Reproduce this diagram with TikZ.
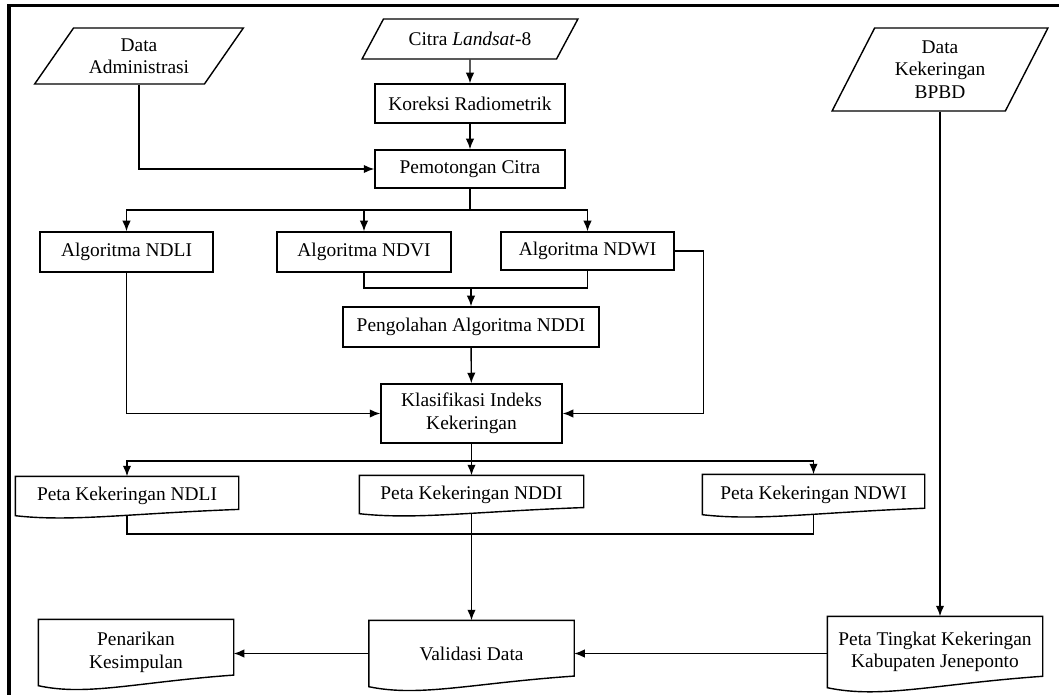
\documentclass[tikz,border=0pt]{standalone}
\usepackage{fontspec}
\setmainfont{Liberation Serif}
\usetikzlibrary{shapes.geometric, arrows.meta, calc, positioning}

\newlength{\pxu}
\setlength{\pxu}{0.025cm}

% document symbol drawn round a plain node
\newcommand{\docshape}[1]{%
  \draw let \p1=(#1.south west), \p2=(#1.north east),
    \n1={0.16*(\y2-\y1)}, \n2={\x2-\x1} in
    (\x1,\y2) -- (\x2,\y2) -- ({\x2},{\y1+\n1})
    .. controls ({\x1+0.5*\n2},{\y1+0.33*\n1}) and ({\x1+0.25*\n2},{\y1-\n1}) .. (\x1,\y1)
    -- cycle;}

\begin{document}
\begin{tikzpicture}[x=\pxu, y=-\pxu, line width=1pt, >={Latex[length=7.5pt,width=6pt]},
  every node/.style={font=\fontsize{13.8}{16}\selectfont, align=center, inner sep=2pt},
  proc/.style={draw, rectangle},
  io/.style={draw, trapezium, trapezium stretches=true},
  doc/.style={rectangle}]
  \useasboundingbox (0,0) rectangle (1059,695);
  \draw[line width=2.2pt] (9,695) -- (9,5.5) -- (1059,5.5);

  % data masukan
  \node[io, trapezium left angle=52.5, trapezium right angle=127.5, minimum width=209*\pxu, minimum height=56*\pxu] (admin) at (139,56) {Data\\Administrasi};
  \node[io, trapezium left angle=50.5, trapezium right angle=129.5, minimum width=216*\pxu, minimum height=40*\pxu] (citra) at (470,39) {Citra \textit{Landsat}-8};
  \node[io, trapezium left angle=63.7, trapezium right angle=116.3, minimum width=216*\pxu, minimum height=83*\pxu] (bpbd) at (940,69.5) {Data\\Kekeringan\\BPBD};

  % proses
  \node[proc, minimum width=190*\pxu, minimum height=39*\pxu] (koreksi) at (470,103.5) {Koreksi Radiometrik};
  \node[proc, minimum width=190*\pxu, minimum height=38*\pxu] (potong) at (470,169) {Pemotongan Citra};
  \node[proc, minimum width=173*\pxu, minimum height=40*\pxu] (ndli) at (126.5,252) {Algoritma NDLI};
  \node[proc, minimum width=174*\pxu, minimum height=40*\pxu] (ndvi) at (364,252) {Algoritma NDVI};
  \node[proc, minimum width=173*\pxu, minimum height=38*\pxu] (ndwi) at (587.5,251) {Algoritma NDWI};
  \node[proc, minimum width=256*\pxu, minimum height=40*\pxu] (nddi) at (471,327) {Pengolahan Algoritma NDDI};
  \node[proc, minimum width=181*\pxu, minimum height=59*\pxu] (klas) at (471.5,413.5) {Klasifikasi Indeks\\Kekeringan};

  % keluaran
  \node[doc, minimum width=222*\pxu, minimum height=38*\pxu] (petandli) at (127,496) {Peta Kekeringan NDLI};
  \node[doc, minimum width=223*\pxu, minimum height=37*\pxu] (petanddi) at (471.5,494.5) {Peta Kekeringan NDDI};
  \node[doc, minimum width=221*\pxu, minimum height=39*\pxu] (petandwi) at (813.5,494.5) {Peta Kekeringan NDWI};
  \node[doc, minimum width=194*\pxu, minimum height=65*\pxu] (tarik) at (136,652.5) {Penarikan\\Kesimpulan};
  \node[doc, minimum width=204*\pxu, minimum height=65*\pxu] (valid) at (471.5,653.5) {Validasi Data};
  \node[doc, minimum width=214*\pxu, minimum height=70*\pxu] (tingkat) at (935,652) {Peta Tingkat Kekeringan\\Kabupaten Jeneponto};
  \docshape{petandli}
  \docshape{petanddi}
  \docshape{petandwi}
  \docshape{tarik}
  \docshape{valid}
  \docshape{tingkat}

  % titik cabang
  \coordinate (bus1) at (470,210);
  \coordinate (bus2) at (471,288);
  \coordinate (bus3) at (471.5,461);
  \coordinate (bus4) at (471.5,534);

  \draw[->] (citra.south) -- (koreksi.north);
  \draw[->] (koreksi) -- (potong);
  \draw[->] (admin.south) |- (potong.west);
  \draw (potong.south) -- (bus1);
  \draw[->] (bus1) -| (ndli.north);
  \draw[->] (bus1) -| (ndvi.north);
  \draw[->] (bus1) -| (ndwi.north);
  \draw (ndvi.south) |- (bus2);
  \draw (ndwi.south) |- (bus2);
  \draw[->] (bus2) -- (nddi.north);
  \draw[->] (nddi) -- (klas);
  \draw[->] (ndli.south) |- (klas.west);
  \draw[->] (ndwi.east) -- ++(29,0) |- (klas.east);
  \draw (klas.south) -- (bus3);
  \draw[->] (bus3) -| (petandli.north);
  \draw[->] (bus3) -- (petanddi.north);
  \draw[->] (bus3) -| (petandwi.north);
  \draw (petandli.south) |- (bus4) -| (petandwi.south);
  \draw[->] (petanddi.south) -- (valid.north);
  \draw[->] (bpbd.south) -- (bpbd.south |- tingkat.north);
  \draw[->] (tingkat.west |- valid.east) -- (valid.east);
  \draw[->] (valid.west) -- (tarik.east |- valid.west);
\end{tikzpicture}
\end{document}
